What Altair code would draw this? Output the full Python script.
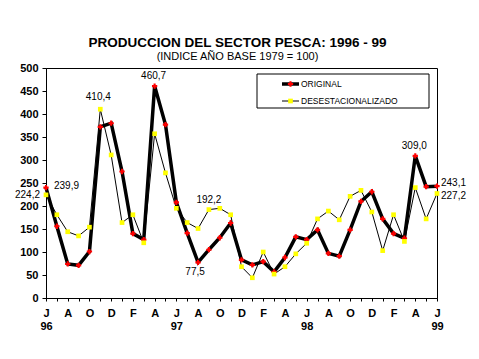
import json
import altair as alt
import pandas as pd

# ---- data -------------------------------------------------------------
month_letters = ["J", "J", "A", "S", "O", "N", "D", "E", "F", "M", "A", "M"] * 3 + ["J"]
year_labels = ["96", "97", "98", "99"]
series_names = ["ORIGINAL", "DESESTACIONALIZADO"]

original = [239.9, 156, 74, 71, 101, 372, 380, 275, 140, 127, 460.7, 377,
            208, 141, 77.5, 105, 131, 163, 83, 72, 79, 57, 88, 133,
            127, 148, 97, 91, 148, 210, 231, 172, 140, 130, 309.0, 242, 243.1]
deseason = [224.2, 181, 144, 135, 154, 410.4, 311, 164, 181, 120, 357, 272,
            195, 164, 151, 192.2, 195, 181, 68, 44, 100, 52, 68, 96,
            119, 172, 189, 170, 221, 234, 187, 103, 181, 123, 240, 172, 227.2]

n = len(original)
df = pd.DataFrame({"i": list(range(n)), "original": original, "deseason": deseason})

labels = []
for i in range(n):
    t = month_letters[i] if i % 2 == 0 else ""
    if i % 12 == 0:
        t += "|" + year_labels[i // 12]
    labels.append(t)
label_expr = f"split({json.dumps(labels)}[datum.value], '|')"

FONT = "Liberation Sans"

x_enc = alt.X(
    "i:Q",
    scale=alt.Scale(domain=[0, n - 1], nice=False, zero=False),
    axis=alt.Axis(
        values=list(range(n)), labelExpr=label_expr, title=None,
        labelOverlap=False, labelFlush=False, grid=False,
        tickSize=3, tickColor="black", domainColor="black",
        labelFont=FONT, labelFontSize=11, labelFontWeight="bold",
        labelColor="black", labelPadding=6, labelLineHeight=13,
    ),
)


def y_enc(field):
    return alt.Y(
        f"{field}:Q",
        scale=alt.Scale(domain=[0, 500], nice=False),
        axis=alt.Axis(
            values=list(range(0, 501, 50)), title=None, grid=False,
            tickSize=4, tickColor="black", domainColor="black",
            labelFont=FONT, labelFontSize=11, labelFontWeight="bold",
            labelColor="black", labelPadding=4,
        ),
    )


base = alt.Chart(df)

orig_line = base.mark_line(color="black", strokeWidth=3.5).encode(x=x_enc, y=y_enc("original"))
orig_pts = base.mark_point(shape="cross", filled=True, color="#FF0000", size=28, opacity=1).encode(
    x=x_enc, y=y_enc("original"))
des_line = base.mark_line(color="black", strokeWidth=1).encode(x=x_enc, y=y_enc("deseason"))
des_pts = base.mark_point(shape="square", filled=True, color="#FFFF00", size=22, opacity=1).encode(
    x=x_enc, y=y_enc("deseason"))


def annot(field, idx, align, baseline, dx, dy):
    return (
        base.transform_filter(alt.datum.i == idx)
        .transform_calculate(lab=f"replace(format(datum.{field}, '.1f'), '.', ',')")
        .mark_text(font=FONT, fontSize=10, color="black", align=align, baseline=baseline, dx=dx, dy=dy)
        .encode(x=x_enc, y=y_enc(field), text="lab:N")
    )


annots = [
    annot("original", 0, "left", "middle", 8, -2),
    annot("deseason", 0, "right", "middle", -6, 0),
    annot("deseason", 5, "center", "alphabetic", -2, -9),
    annot("original", 10, "center", "alphabetic", -1, -7),
    annot("deseason", 15, "center", "alphabetic", 0, -7),
    annot("original", 14, "center", "top", -3, 5),
    annot("original", 34, "center", "alphabetic", -1, -7),
    annot("original", 36, "left", "middle", 4, -3),
    annot("deseason", 36, "left", "middle", 4, 3),
]

# ---- legend (drawn inside the plot) -----------------------------------
leg_df = pd.DataFrame({"name": series_names})
leg = alt.Chart(leg_df)
first = alt.datum.name == series_names[0]
second = alt.datum.name == series_names[1]
leg_box = leg.transform_filter(first).mark_rect(
    fill="white", stroke="black", strokeWidth=1).encode(
    x=alt.value(211), x2=alt.value(383), y=alt.value(6), y2=alt.value(40))
leg_r1 = leg.transform_filter(first).mark_rule(
    color="black", strokeWidth=3.5).encode(x=alt.value(236), x2=alt.value(253), y=alt.value(16))
leg_p1 = leg.transform_filter(first).mark_point(
    shape="cross", filled=True, color="#FF0000", size=28, opacity=1).encode(
    x=alt.value(244.5), y=alt.value(16))
leg_r2 = leg.transform_filter(second).mark_rule(
    color="black", strokeWidth=1).encode(x=alt.value(236), x2=alt.value(253), y=alt.value(33))
leg_p2 = leg.transform_filter(second).mark_point(
    shape="square", filled=True, color="#FFFF00", size=22, opacity=1).encode(
    x=alt.value(244.5), y=alt.value(33))
leg_t1 = leg.transform_filter(first).mark_text(
    font=FONT, fontSize=8.5, color="black", align="left", baseline="middle").encode(
    x=alt.value(255), y=alt.value(16), text="name:N")
leg_t2 = leg.transform_filter(second).mark_text(
    font=FONT, fontSize=8.5, color="black", align="left", baseline="middle").encode(
    x=alt.value(255), y=alt.value(33), text="name:N")

chart = alt.layer(
    orig_line, des_line, orig_pts, des_pts, *annots,
    leg_box, leg_r1, leg_p1, leg_r2, leg_p2, leg_t1, leg_t2,
).properties(
    width=391, height=230,
    autosize=alt.AutoSizeParams(type="none"),
    padding={"left": 38, "top": 60, "right": 34, "bottom": 52},
    background="white",
    title=alt.TitleParams(
        "PRODUCCION DEL SECTOR PESCA: 1996 - 99",
        subtitle="(INDICE AÑO BASE 1979 = 100)",
        font=FONT, fontSize=13.5, fontWeight="bold", color="black",
        subtitleFont=FONT, subtitleFontSize=11, subtitleColor="black",
        anchor="middle", frame="group", offset=0, subtitlePadding=2, dx=-4,
    ),
).configure_view(stroke="black", strokeWidth=1)

chart.save("out.html", embed_options={"renderer": "svg", "actions": False})
